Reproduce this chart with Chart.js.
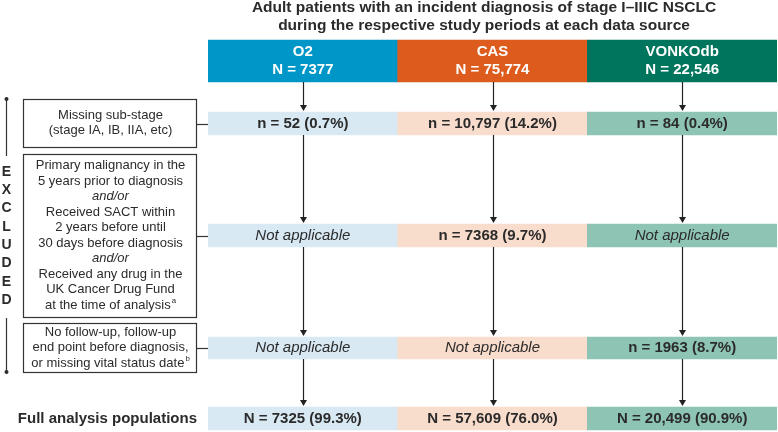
<!DOCTYPE html>
<html>
<head>
<meta charset="utf-8">
<script src="https://cdn.jsdelivr.net/npm/chart.js@4.4.1/dist/chart.umd.min.js"></script>
<style>
    html, body { margin: 0; padding: 0; background: #fff; }
    #wrap { width: 778px; height: 432px; position: relative; }
</style>
</head>
<body>
<div id="wrap"><canvas id="flowChart"></canvas></div>
<script>
'use strict';

// ============================================================
// 数据
// ============================================================
const sources = ['O2', 'CAS', 'VONKOdb'];
const cohortN = [7377, 75774, 22546];
const missingStageN = [52, 10797, 84];
const missingStagePct = [0.7, 14.2, 0.4];
const priorTreatmentN = [null, 7368, null];
const priorTreatmentPct = [null, 9.7, null];
const followUpN = [null, null, 1963];
const followUpPct = [null, null, 8.7];
const finalN = [7325, 57609, 20499];
const finalPct = [99.3, 76.0, 90.9];

const titleLines = [
    'Adult patients with an incident diagnosis of stage I\u2013IIIC NSCLC',
    'during the respective study periods at each data source'
];
// "_" = italic line, "^x" = superscript at the end
const criteriaText = [
    ['Missing sub-stage', '(stage IA, IB, IIA, etc)'],
    ['Primary malignancy in the', '5 years prior to diagnosis', '_and/or', 'Received SACT within',
     '2 years before until', '30 days before diagnosis', '_and/or', 'Received any drug in the',
     'UK Cancer Drug Fund', 'at the time of analysis^a'],
    ['No follow-up, follow-up', 'end point before diagnosis,', 'or missing vital status date^b']
];
const sideLabel = 'EXCLUDED';
const finalLabel = 'Full analysis populations';
const notApplicable = 'Not applicable';

// ============================================================
// 布局 / 样式
// ============================================================
const rowBands = [[40, 82], [112, 135], [224, 247], [337, 359], [407, 430]];
const criteriaBands = [[99, 147], [154, 317], [323, 372]];
const criteriaX = [23, 196];
const headerColors = ['#0097c8', '#dc5b1d', '#00755d'];
const lightColors = ['#d8e9f3', '#f8dccc', '#8ec4b4'];
const FONT = "'Liberation Sans', Arial, sans-serif";
const INK = '#2b2b2b';

const fmt = n => n >= 10000 ? n.toLocaleString('en-US') : String(n);

const rows = [
    { values: cohortN, pct: null },
    { values: missingStageN, pct: missingStagePct },
    { values: priorTreatmentN, pct: priorTreatmentPct },
    { values: followUpN, pct: followUpPct },
    { values: finalN, pct: finalPct }
];

function cellLines(rowIdx, col) {
    const r = rows[rowIdx];
    if (rowIdx === 0) return [sources[col], 'N = ' + fmt(r.values[col])];
    if (r.values[col] === null) return ['_' + notApplicable];
    const prefix = rowIdx === 4 ? 'N = ' : 'n = ';
    return [prefix + fmt(r.values[col]) + ' (' + r.pct[col].toFixed(1) + '%)'];
}

function drawText(ctx, text, cx, cy, size, bold) {
    let italic = false;
    let sup = '';
    if (text.startsWith('_')) { italic = true; text = text.slice(1); }
    const k = text.indexOf('^');
    if (k >= 0) { sup = text.slice(k + 1); text = text.slice(0, k); }
    const font = (italic ? 'italic ' : '') + (bold ? 'bold ' : '') + size + 'px ' + FONT;
    const supFont = (size * 0.6) + 'px ' + FONT;
    ctx.font = font;
    const w1 = ctx.measureText(text).width;
    ctx.font = supFont;
    const w2 = sup ? ctx.measureText(sup).width + 1 : 0;
    const x0 = cx - (w1 + w2) / 2;
    ctx.textAlign = 'left';
    ctx.textBaseline = 'middle';
    ctx.font = font;
    ctx.fillText(text, x0, cy);
    if (sup) {
        ctx.font = supFont;
        ctx.fillText(sup, x0 + w1 + 1, cy - size * 0.3);
    }
}

const flowPlugin = {
    id: 'flow',
    afterDatasetsDraw(chart) {
        const ctx = chart.ctx;
        const yS = chart.scales.y;
        const area = chart.chartArea;
        ctx.save();

        // 单元格文字
        rows.forEach((r, i) => {
            chart.getDatasetMeta(i).data.forEach((el, j) => {
                const top = Math.min(el.y, el.base), bot = Math.max(el.y, el.base);
                const cy = (top + bot) / 2;
                const lines = cellLines(i, j);
                ctx.fillStyle = i === 0 ? '#fff' : INK;
                lines.forEach((t, k) => {
                    const dy = (k - (lines.length - 1) / 2) * 18;
                    drawText(ctx, t, el.x, cy + dy, 15, !t.startsWith('_'));
                });
            });
        });

        // 箭头
        ctx.strokeStyle = '#222';
        ctx.fillStyle = '#222';
        ctx.lineWidth = 1.2;
        for (let i = 0; i < rows.length - 1; i++) {
            const a = chart.getDatasetMeta(i).data, b = chart.getDatasetMeta(i + 1).data;
            a.forEach((el, j) => {
                const x = Math.round(el.x) + 0.5;
                const y1 = Math.max(el.y, el.base);
                const y2 = Math.min(b[j].y, b[j].base) - 1;
                ctx.beginPath();
                ctx.moveTo(x, y1);
                ctx.lineTo(x, y2 - 5);
                ctx.stroke();
                ctx.beginPath();
                ctx.moveTo(x - 3.5, y2 - 6);
                ctx.lineTo(x + 3.5, y2 - 6);
                ctx.lineTo(x, y2);
                ctx.closePath();
                ctx.fill();
            });
        }

        // 排除标准框
        ctx.strokeStyle = '#333';
        ctx.lineWidth = 1.2;
        criteriaBands.forEach((band, i) => {
            const t = yS.getPixelForValue(band[0]), b = yS.getPixelForValue(band[1]);
            ctx.strokeRect(criteriaX[0] + 0.5, t + 0.5, criteriaX[1] - criteriaX[0], b - t);
            const rowEl = chart.getDatasetMeta(i + 1).data[0];
            const cy = Math.round((rowEl.y + rowEl.base) / 2) + 0.5;
            ctx.beginPath();
            ctx.moveTo(criteriaX[1] + 0.5, cy);
            ctx.lineTo(area.left, cy);
            ctx.stroke();
            const lines = criteriaText[i];
            const mid = (t + b) / 2;
            ctx.fillStyle = INK;
            lines.forEach((s, k) => {
                const dy = (k - (lines.length - 1) / 2) * 15.5;
                drawText(ctx, s, (criteriaX[0] + criteriaX[1]) / 2 + 1, mid + dy, 13, false);
            });
        });

        // 左侧 EXCLUDED 标识
        const bx = 6.5;
        const bTop = yS.getPixelForValue(99), bBot = yS.getPixelForValue(372);
        ctx.beginPath();
        ctx.moveTo(bx, bTop); ctx.lineTo(bx, 156);
        ctx.moveTo(bx, 318); ctx.lineTo(bx, bBot);
        ctx.stroke();
        [bTop, bBot].forEach(y => { ctx.beginPath(); ctx.arc(bx, y, 2, 0, Math.PI * 2); ctx.fill(); });
        ctx.font = 'bold 14px ' + FONT;
        ctx.textAlign = 'center';
        ctx.textBaseline = 'middle';
        sideLabel.split('').forEach((ch, k) => ctx.fillText(ch, bx, 172 + k * 18.3));

        // 标题
        titleLines.forEach((t, k) => drawText(ctx, t, 484, 8 + k * 18, 15.5, true));

        // 最终人群标签
        const fEl = chart.getDatasetMeta(4).data[0];
        ctx.font = 'bold 15px ' + FONT;
        ctx.textAlign = 'right';
        ctx.fillText(finalLabel, 197, (fEl.y + fEl.base) / 2);

        ctx.restore();
    }
};

const datasets = rows.map((r, i) => ({
    label: 'row' + i,
    data: sources.map(() => rowBands[i]),
    backgroundColor: i === 0 ? headerColors : lightColors,
    borderWidth: 0,
    borderSkipped: false,
    barPercentage: 1,
    categoryPercentage: 1,
    grouped: false
}));

new Chart(document.getElementById('flowChart'), {
    type: 'bar',
    data: { labels: sources, datasets: datasets },
    options: {
        responsive: true,
        maintainAspectRatio: false,
        animation: false,
        layout: { padding: { left: 208, right: 1, top: 0, bottom: 0 } },
        plugins: {
            legend: { display: false },
            tooltip: { enabled: false },
            title: { display: false }
        },
        scales: {
            x: { type: 'category', display: false, offset: true, grid: { display: false } },
            y: { type: 'linear', display: false, min: 0, max: 432, reverse: true, grid: { display: false } }
        }
    },
    plugins: [flowPlugin]
});
</script>
</body>
</html>
